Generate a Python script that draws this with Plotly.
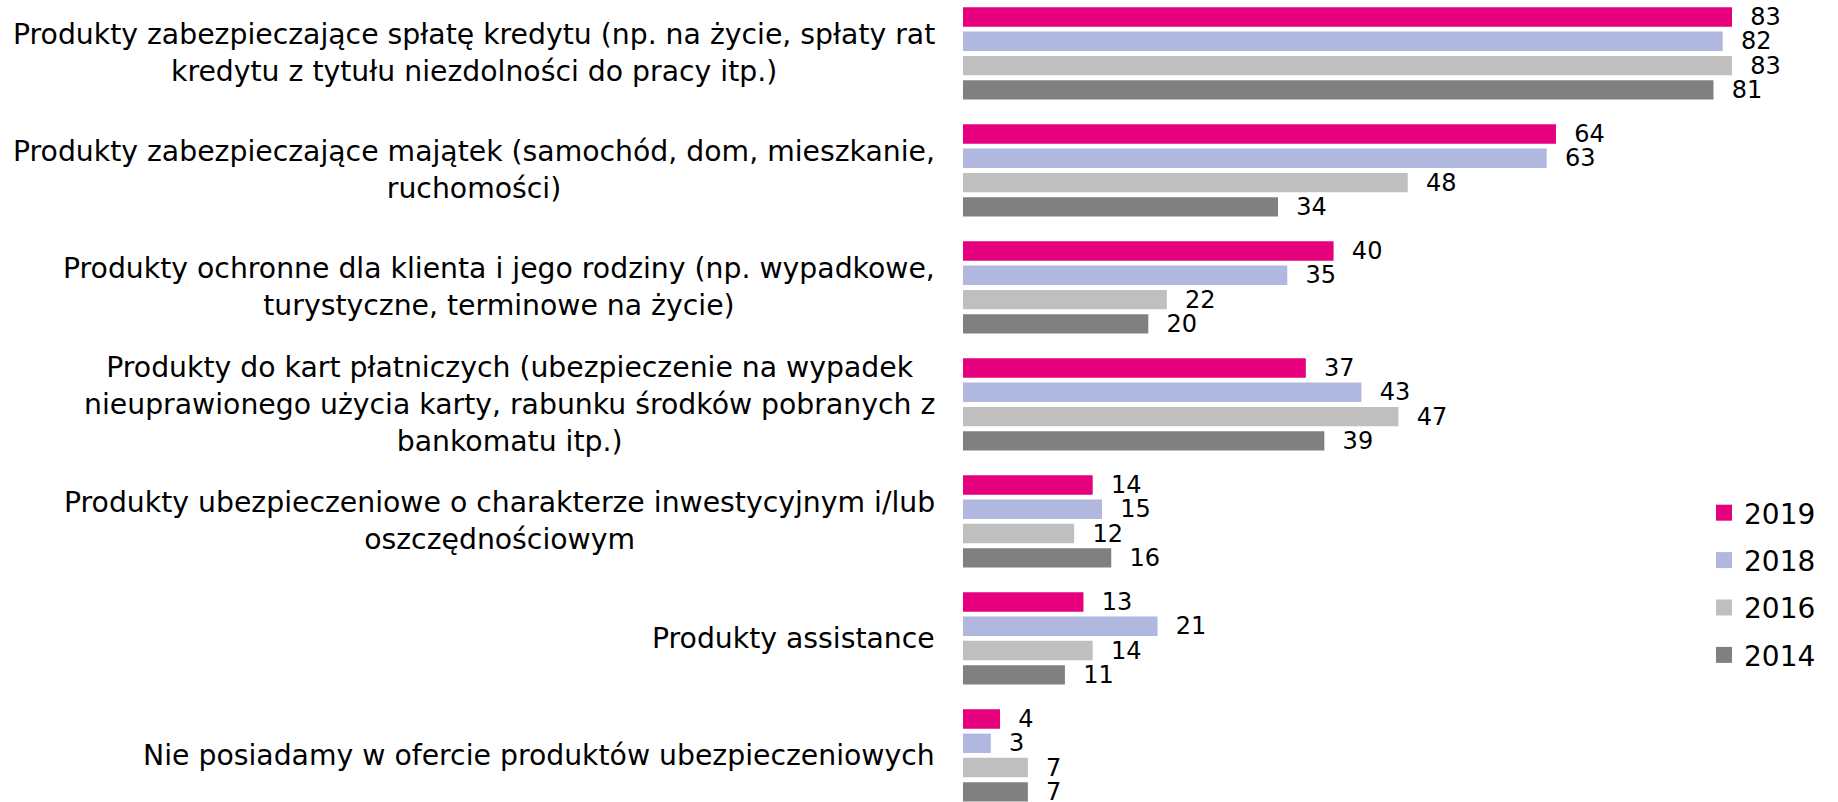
import plotly.graph_objects as go

categories = [
    "Produkty zabezpieczające spłatę kredytu (np. na życie, spłaty rat<br>kredytu z tytułu niezdolności do pracy itp.)",
    "Produkty zabezpieczające majątek (samochód, dom, mieszkanie,<br>ruchomości)",
    "Produkty ochronne dla klienta i jego rodziny (np. wypadkowe,<br>turystyczne, terminowe na życie)",
    "Produkty do kart płatniczych (ubezpieczenie na wypadek<br>nieuprawionego użycia karty, rabunku środków pobranych z<br>bankomatu itp.)",
    "Produkty ubezpieczeniowe o charakterze inwestycyjnym i/lub<br>oszczędnościowym",
    "Produkty assistance",
    "Nie posiadamy w ofercie produktów ubezpieczeniowych",
]
years = ["2019", "2018", "2016", "2014"]
v2019 = [83, 64, 40, 37, 14, 13, 4]
v2018 = [82, 63, 35, 43, 15, 21, 3]
v2016 = [83, 48, 22, 47, 12, 14, 7]
v2014 = [81, 34, 20, 39, 16, 11, 7]
series = [v2019, v2018, v2016, v2014]
colors = ["#E6007E", "#B0B8DF", "#BFBFBF", "#808080"]

FONT = "DejaVu Sans"
W, H = 1838, 802
x0_px = 963
px_per_unit = 9.265
ypos = list(range(len(categories)))

fig = go.Figure()
for name, vals, col in zip(years, series, colors):
    fig.add_trace(go.Bar(
        y=ypos, x=vals, orientation="h", name=name,
        marker=dict(color=col, line=dict(width=0)),
        text=vals, texttemplate="\u00a0\u00a0%{x}", textposition="outside",
        textfont=dict(family=FONT, size=24, color="#000000"),
        constraintext="none", cliponaxis=False,
        legendgroup=name, showlegend=False, hoverinfo="skip",
    ))
# legend entries (square swatches)
for name, col in zip(years, colors):
    fig.add_trace(go.Scatter(
        x=[None], y=[None], mode="markers", name=name,
        marker=dict(symbol="square", size=16, color=col, line=dict(width=0)),
        legendgroup=name, showlegend=True,
    ))

for i, cat in enumerate(categories):
    fig.add_annotation(
        x=937 / W, xref="paper", xanchor="right",
        y=i, yref="y", yanchor="middle",
        text=cat, align="center", showarrow=False,
        font=dict(family=FONT, size=28.3, color="#000000"),
    )

fig.update_layout(
    width=W, height=H,
    margin=dict(l=0, r=0, t=0, b=0, autoexpand=False),
    paper_bgcolor="white", plot_bgcolor="white",
    barmode="group", bargap=0.17, bargroupgap=0.2,
    showlegend=True,
    legend=dict(
        x=1704 / W, xanchor="left", y=1 - 488 / H, yanchor="top",
        font=dict(family=FONT, size=28, color="#000000"),
        traceorder="grouped", tracegroupgap=8,
        bgcolor="rgba(0,0,0,0)",
    ),
    xaxis=dict(domain=[x0_px / W, 1], range=[0, (W - x0_px) / px_per_unit],
               visible=False, fixedrange=True),
    yaxis=dict(range=[6.398, -0.457], visible=False, fixedrange=True),
    font=dict(family=FONT),
)

fig.write_html(
    "out.html",
    config={"displayModeBar": False},
    post_script="document.body.style.margin='0';document.body.style.overflow='hidden';",
)
